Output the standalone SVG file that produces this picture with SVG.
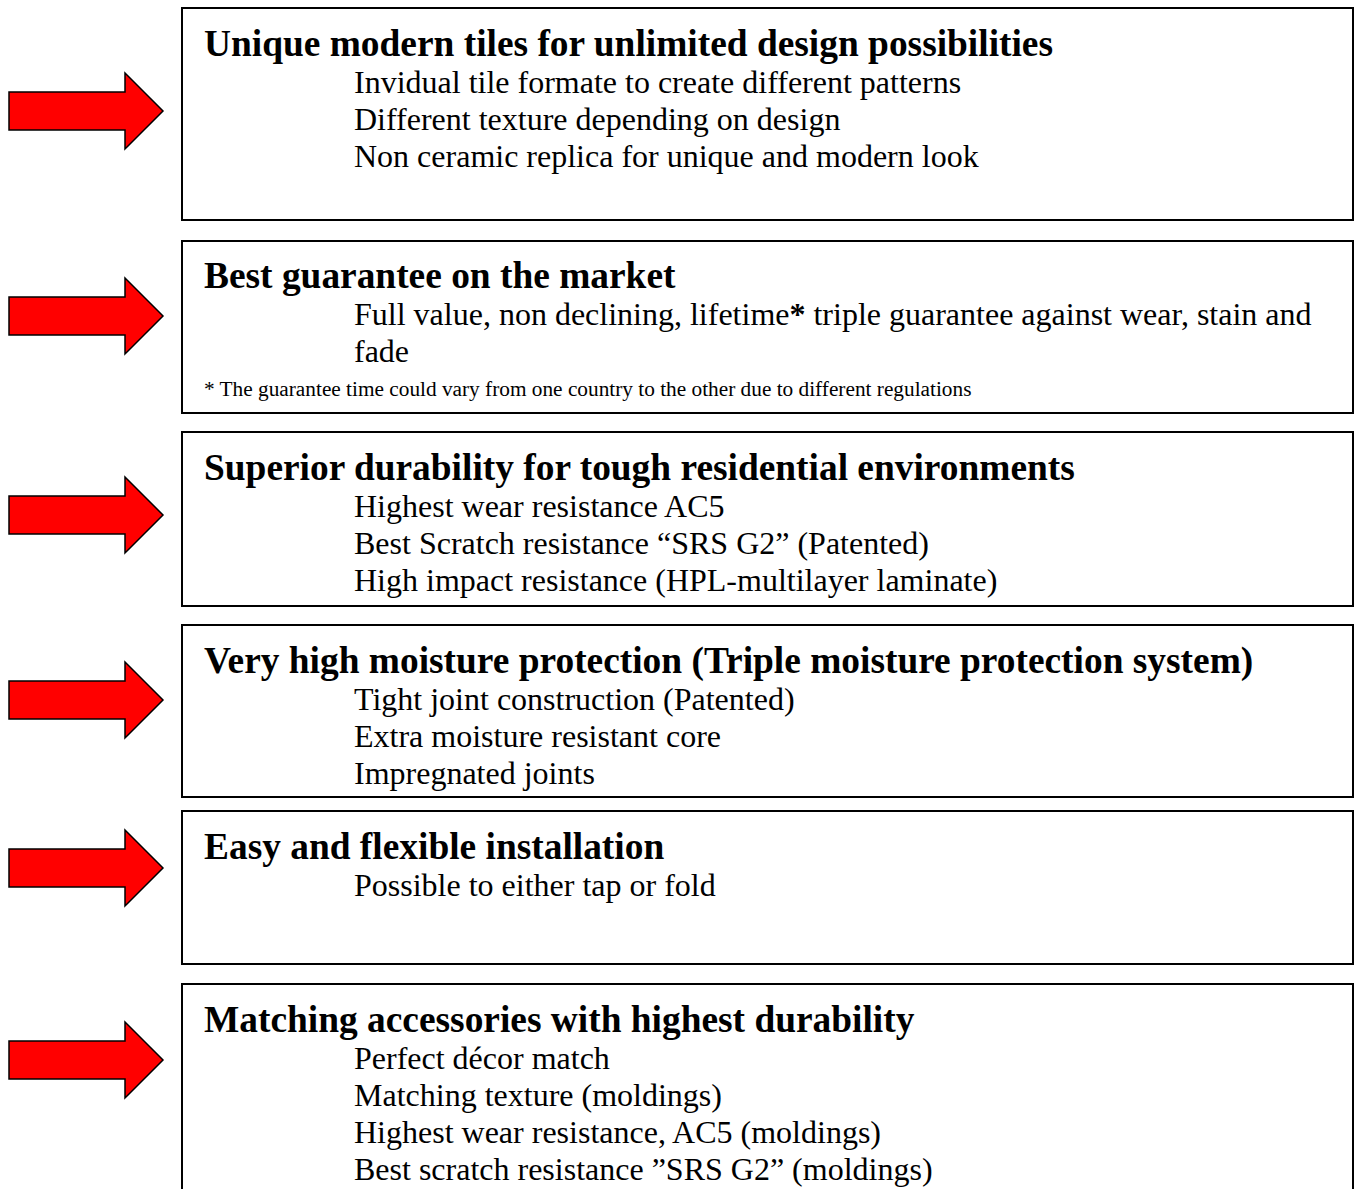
<svg xmlns="http://www.w3.org/2000/svg" width="1360" height="1189" viewBox="0 0 1360 1189">
<style>
.box{fill:#fff;stroke:#000;stroke-width:2}
.arr{fill:#ff0000;stroke:#000;stroke-width:1.5;stroke-linejoin:miter}
.h{font-family:"Liberation Serif","Times New Roman",serif;font-weight:bold;font-size:37.4px;fill:#000}
.t{font-family:"Liberation Serif","Times New Roman",serif;font-size:32px;fill:#000}
.f{font-family:"Liberation Serif","Times New Roman",serif;font-size:21.3px;fill:#000}
</style>
<defs>
<path id="arrow" class="arr" d="M9,-19 L125,-19 L125,-38 L163,0 L125,38 L125,19 L9,19 Z"/>
</defs>
<rect width="1360" height="1189" fill="#fff"/>
<g id="arrows">
<use href="#arrow" y="111"/>
<use href="#arrow" y="316"/>
<use href="#arrow" y="515"/>
<use href="#arrow" y="700"/>
<use href="#arrow" y="868"/>
<use href="#arrow" y="1060"/>
</g>
<g id="box1">
<rect class="box" x="182" y="8" width="1171" height="212"/>
<text class="h" x="204" y="56">Unique modern tiles for unlimited design possibilities</text>
<text class="t" x="354" y="93">Invidual tile formate to create different patterns</text>
<text class="t" x="354" y="130">Different texture depending on design</text>
<text class="t" x="354" y="167">Non ceramic replica for unique and modern look</text>
</g>
<g id="box2">
<rect class="box" x="182" y="241" width="1171" height="172"/>
<text class="h" x="204" y="288">Best guarantee on the market</text>
<text class="t" x="354" y="325">Full value, non declining, lifetime<tspan font-weight="bold">*</tspan> triple guarantee against wear, stain and</text>
<text class="t" x="354" y="362">fade</text>
<text class="f" x="204" y="396">* The guarantee time could vary from one country to the other due to different regulations</text>
</g>
<g id="box3">
<rect class="box" x="182" y="432" width="1171" height="174"/>
<text class="h" x="204" y="480">Superior durability for tough residential environments</text>
<text class="t" x="354" y="517">Highest wear resistance AC5</text>
<text class="t" x="354" y="554">Best Scratch resistance “SRS G2” (Patented)</text>
<text class="t" x="354" y="591">High impact resistance (HPL-multilayer laminate)</text>
</g>
<g id="box4">
<rect class="box" x="182" y="625" width="1171" height="172"/>
<text class="h" x="204" y="673">Very high moisture protection (Triple moisture protection system)</text>
<text class="t" x="354" y="710">Tight joint construction (Patented)</text>
<text class="t" x="354" y="747">Extra moisture resistant core</text>
<text class="t" x="354" y="784">Impregnated joints</text>
</g>
<g id="box5">
<rect class="box" x="182" y="811" width="1171" height="153"/>
<text class="h" x="204" y="859">Easy and flexible installation</text>
<text class="t" x="354" y="896">Possible to either tap or fold</text>
</g>
<g id="box6">
<rect class="box" x="182" y="984" width="1171" height="220"/>
<text class="h" x="204" y="1032">Matching accessories with highest durability</text>
<text class="t" x="354" y="1069">Perfect décor match</text>
<text class="t" x="354" y="1106">Matching texture (moldings)</text>
<text class="t" x="354" y="1143">Highest wear resistance, AC5 (moldings)</text>
<text class="t" x="354" y="1180">Best scratch resistance ”SRS G2” (moldings)</text>
</g>
</svg>
